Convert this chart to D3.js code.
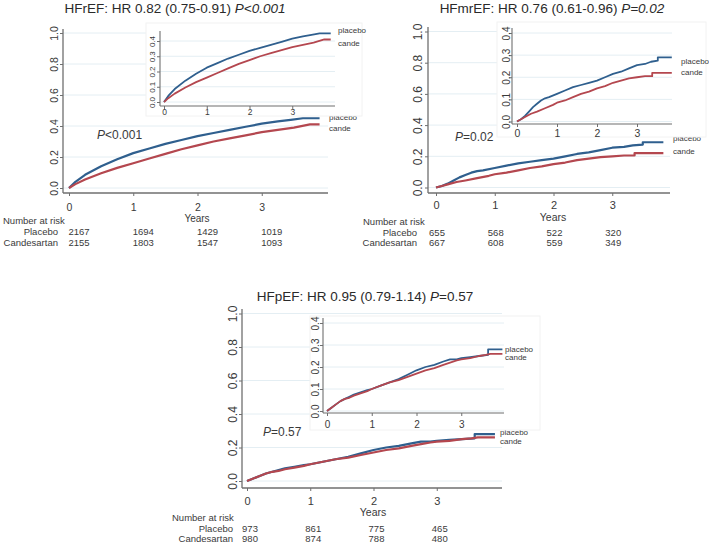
<!DOCTYPE html>
<html>
<head>
<meta charset="utf-8">
<script src="https://cdn.jsdelivr.net/npm/d3@7"></script>
<style>
  html, body { margin: 0; padding: 0; background: #fff; }
  svg { display: block; font-family: "Liberation Sans", Arial, Helvetica, sans-serif; }
</style>
</head>
<body>
<svg id="chart" width="709" height="545"></svg>
<script>
// ---------------- DATA ----------------
const years = [0, 1, 2, 3];
const yMainTicks = [0, 0.2, 0.4, 0.6, 0.8, 1.0];
const yInsetTicks = [0, 0.1, 0.2, 0.3, 0.4];
const riskRowLabels = ["Placebo", "Candesartan"];
const seriesLabels = ["placebo", "cande"];

// HFrEF
const hfrefTitle = ["HFrEF: HR 0.82 (0.75-0.91) ", "P<0.001", ""];
const hfrefP = ["P", "<0.001"];
const hfrefTimeP   = [0, 0.1, 0.25, 0.5, 0.75, 1, 1.25, 1.5, 1.75, 2, 2.25, 2.5, 2.75, 3, 3.25, 3.45, 3.64, 3.9];
const hfrefPlacebo = [0, 0.04, 0.085, 0.14, 0.185, 0.225, 0.255, 0.285, 0.31, 0.335, 0.355, 0.375, 0.395, 0.415, 0.43, 0.44, 0.45, 0.45];
const hfrefTimeC   = [0, 0.1, 0.25, 0.5, 0.75, 1, 1.25, 1.5, 1.75, 2, 2.25, 2.5, 2.75, 3, 3.25, 3.5, 3.75, 3.9];
const hfrefCande   = [0, 0.025, 0.055, 0.095, 0.13, 0.16, 0.19, 0.22, 0.25, 0.275, 0.3, 0.32, 0.34, 0.36, 0.375, 0.39, 0.41, 0.41];
const hfrefRiskPlacebo = [2167, 1694, 1429, 1019];
const hfrefRiskCande   = [2155, 1803, 1547, 1093];

// HFmrEF
const hfmrefTitle = ["HFmrEF: HR 0.76 (0.61-0.96) ", "P=0.02", ""];
const hfmrefP = ["P", "=0.02"];
const hfmrefTimeP   = [0, 0.1, 0.2, 0.3, 0.4, 0.5, 0.6, 0.7, 0.8, 1.0, 1.2, 1.4, 1.6, 1.8, 2.0, 2.2, 2.4, 2.6, 2.8, 3.0, 3.2, 3.35, 3.52, 3.52, 3.87];
const hfmrefPlacebo = [0, 0.01, 0.025, 0.045, 0.065, 0.08, 0.095, 0.105, 0.11, 0.125, 0.14, 0.155, 0.165, 0.175, 0.185, 0.2, 0.215, 0.225, 0.24, 0.255, 0.26, 0.27, 0.275, 0.29, 0.29];
const hfmrefTimeC   = [0, 0.1, 0.2, 0.35, 0.5, 0.7, 0.9, 1.0, 1.2, 1.4, 1.6, 1.8, 2.0, 2.2, 2.4, 2.6, 2.8, 3.0, 3.2, 3.38, 3.38, 3.87];
const hfmrefCande   = [0, 0.01, 0.02, 0.035, 0.045, 0.06, 0.075, 0.085, 0.095, 0.11, 0.125, 0.135, 0.15, 0.16, 0.175, 0.185, 0.195, 0.2, 0.205, 0.205, 0.22, 0.22];
const hfmrefRiskPlacebo = [655, 568, 522, 320];
const hfmrefRiskCande   = [667, 608, 559, 349];

// HFpEF
const hfpefTitle = ["HFpEF: HR 0.95 (0.79-1.14) ", "P", "=0.57"];
const hfpefP = ["P", "=0.57"];
const hfpefTimeP   = [0, 0.1, 0.2, 0.3, 0.4, 0.5, 0.6, 0.75, 0.9, 1.0, 1.2, 1.4, 1.6, 1.8, 2.0, 2.2, 2.4, 2.6, 2.75, 2.9, 3.0, 3.2, 3.4, 3.6, 3.6, 3.92];
const hfpefPlacebo = [0, 0.015, 0.03, 0.045, 0.055, 0.065, 0.075, 0.085, 0.095, 0.1, 0.115, 0.13, 0.145, 0.165, 0.185, 0.2, 0.21, 0.225, 0.235, 0.235, 0.24, 0.245, 0.25, 0.255, 0.28, 0.28];
const hfpefTimeC   = [0, 0.1, 0.2, 0.3, 0.4, 0.5, 0.6, 0.75, 0.9, 1.0, 1.2, 1.4, 1.6, 1.8, 2.0, 2.2, 2.4, 2.6, 2.75, 2.9, 3.0, 3.2, 3.4, 3.55, 3.65, 3.92];
const hfpefCande   = [0, 0.015, 0.03, 0.045, 0.055, 0.06, 0.07, 0.08, 0.09, 0.1, 0.115, 0.13, 0.14, 0.155, 0.17, 0.185, 0.195, 0.21, 0.22, 0.23, 0.235, 0.24, 0.25, 0.255, 0.26, 0.26];
const hfpefRiskPlacebo = [973, 861, 775, 465];
const hfpefRiskCande   = [980, 874, 788, 480];

// ---------------- STYLE ----------------
const colPlacebo = "#2f5f8e";
const colCande = "#b4474f";
const gridColor = "#e4eef3";
const axisColor = "#6f6f6f";
const textColor = "#3a3a3a";

const svg = d3.select("#chart");

function toPts(t, v) { return t.map((d, i) => ({ t: d, v: v[i] })); }

function axesBlock(g, L, yTicks, yDomMax, yFmt) {
  const x = d3.scaleLinear().domain([0, 4]).range([L.x0, L.x4]);
  const y = d3.scaleLinear().domain([0, yDomMax]).range([L.y0, L.y1]);
  g.append("g").selectAll("line").data(yTicks).join("line")
    .attr("x1", L.axX).attr("x2", L.axXEnd)
    .attr("y1", d => y(d)).attr("y2", d => y(d))
    .attr("stroke", gridColor).attr("stroke-width", 1);
  const pad = L.xLabY - L.axY - 3 - 0.36 * L.xFs;
  const xa = g.append("g").attr("transform", `translate(0,${L.axY})`)
    .call(d3.axisBottom(x).tickValues(years).tickSize(3).tickSizeOuter(0).tickPadding(pad).tickFormat(d3.format("d")));
  xa.select(".domain").remove();
  xa.selectAll("line").attr("stroke", axisColor);
  xa.selectAll("text").attr("font-size", L.xFs).attr("fill", textColor).attr("font-family", null);
  g.append("line").attr("x1", L.axX).attr("x2", L.axXEnd).attr("y1", L.axY).attr("y2", L.axY)
    .attr("stroke", axisColor).attr("stroke-width", L.axW);
  const ya = g.append("g").attr("transform", `translate(${L.axX},0)`)
    .call(d3.axisLeft(y).tickValues(yTicks).tickSize(3).tickSizeOuter(0).tickFormat(d3.format(yFmt)));
  ya.select(".domain").remove();
  ya.selectAll("line").attr("stroke", axisColor);
  ya.selectAll("text")
    .attr("x", 0).attr("dy", "0.35em")
    .attr("text-anchor", "middle")
    .attr("transform", `translate(${-(L.axX - L.yLabX)},0) rotate(-90)`)
    .attr("font-size", L.yFs).attr("fill", textColor).attr("font-family", null);
  g.append("line").attr("x1", L.axX).attr("x2", L.axX).attr("y1", L.axYTop).attr("y2", L.axY)
    .attr("stroke", axisColor).attr("stroke-width", L.axW);
  return { x, y };
}

function curves(g, sc, series, w) {
  const line = d3.line().x(d => sc.x(d.t)).y(d => sc.y(d.v)).curve(d3.curveLinear);
  series.forEach(s => {
    g.append("path").attr("d", line(s.pts)).attr("fill", "none")
      .attr("stroke", s.color).attr("stroke-width", w).attr("stroke-linejoin", "round");
  });
}

function curveLabels(g, pos, fs) {
  seriesLabels.forEach((lab, i) => {
    g.append("text").attr("x", pos[i][0]).attr("y", pos[i][1]).attr("dy", "0.35em")
      .attr("font-size", fs).attr("fill", textColor).text(lab);
  });
}

function drawPanel(P) {
  const g = svg.append("g");
  const tt = g.append("text").attr("x", P.titleX).attr("y", P.titleY).attr("text-anchor", "middle")
    .attr("font-size", 13.5).attr("fill", "#2a2a2a");
  tt.append("tspan").text(P.title[0]);
  tt.append("tspan").attr("font-style", "italic").text(P.title[1]);
  if (P.title[2]) tt.append("tspan").text(P.title[2]);

  const M = P.main;
  const sc = axesBlock(g, M, yMainTicks, 1, ".1f");
  curves(g, sc, P.series, 2.2);
  curveLabels(g, M.labPos, 8);
  g.append("text").attr("x", M.yearsX).attr("y", M.yearsY).attr("dy", "0.35em").attr("text-anchor", "middle")
    .attr("font-size", M.yearsFs).attr("fill", textColor).text("Years");
  const pt = g.append("text").attr("x", M.pX).attr("y", M.pY).attr("dy", "0.35em")
    .attr("font-size", 12).attr("fill", textColor);
  pt.append("tspan").attr("font-style", "italic").text(P.pText[0]);
  pt.append("tspan").text(P.pText[1]);

  const R = P.risk;
  g.append("text").attr("x", R.headX).attr("y", R.headY).attr("dy", "0.35em")
    .attr("font-size", 9.5).attr("fill", textColor).text("Number at risk");
  [P.riskPlacebo, P.riskCande].forEach((row, i) => {
    g.append("text").attr("x", R.rowLabX).attr("y", R.rowY[i]).attr("dy", "0.35em")
      .attr("text-anchor", "end").attr("font-size", 9.5).attr("fill", textColor).text(riskRowLabels[i]);
    g.append("g").selectAll("text").data(row).join("text")
      .attr("x", (d, j) => sc.x(years[j]) + R.numOff).attr("y", R.rowY[i]).attr("dy", "0.35em")
      .attr("text-anchor", "middle").attr("font-size", 9.5).attr("fill", textColor).text(d => d);
  });

  const I = P.inset;
  const gi = g.append("g");
  gi.append("rect").attr("x", I.box[0]).attr("y", I.box[1])
    .attr("width", I.box[2] - I.box[0]).attr("height", I.box[3] - I.box[1])
    .attr("fill", "#fff").attr("stroke", "#f2f2f2").attr("stroke-width", 1);
  const si = axesBlock(gi, I, yInsetTicks, 0.4, ".1f");
  curves(gi, si, P.series, 1.8);
  curveLabels(gi, I.labPos, 8);
}

const panels = [
  {
    title: hfrefTitle, titleX: 175, titleY: 13, pText: hfrefP,
    series: [
      { pts: toPts(hfrefTimeP, hfrefPlacebo), color: colPlacebo },
      { pts: toPts(hfrefTimeC, hfrefCande), color: colCande }
    ],
    riskPlacebo: hfrefRiskPlacebo, riskCande: hfrefRiskCande,
    main: { x0: 69, x4: 326, y0: 188, y1: 33, axX: 63, axY: 193, axXEnd: 328, axYTop: 29, axW: 1.3,
            xFs: 10.5, xLabY: 207.5, yFs: 10.5, yLabX: 54,
            yearsX: 197, yearsY: 218, yearsFs: 10, pX: 97, pY: 135,
            labPos: [[329, 117], [329, 128]] },
    risk: { headX: 3, headY: 221, rowLabX: 58, rowY: [231.5, 242.5], numOff: 10 },
    inset: { box: [146, 23, 362, 116], x0: 164, x4: 335, y0: 102, y1: 41, axX: 160, axY: 106, axXEnd: 335, axYTop: 31, axW: 1.1,
             xFs: 8.5, xLabY: 112, yFs: 8, yLabX: 152, labPos: [[338, 30], [338, 43]] }
  },
  {
    title: hfmrefTitle, titleX: 552, titleY: 13, pText: hfmrefP,
    series: [
      { pts: toPts(hfmrefTimeP, hfmrefPlacebo), color: colPlacebo },
      { pts: toPts(hfmrefTimeC, hfmrefCande), color: colCande }
    ],
    riskPlacebo: hfmrefRiskPlacebo, riskCande: hfmrefRiskCande,
    main: { x0: 436, x4: 671, y0: 187.5, y1: 31.5, axX: 428, axY: 193, axXEnd: 670, axYTop: 27, axW: 1.3,
            xFs: 11, xLabY: 205.5, yFs: 12, yLabX: 418,
            yearsX: 553, yearsY: 217, yearsFs: 10.5, pX: 455, pY: 137,
            labPos: [[673, 138], [673, 151]] },
    risk: { headX: 363, headY: 221.5, rowLabX: 417, rowY: [232.5, 243], numOff: 1 },
    inset: { box: [497, 22, 706, 137], x0: 517, x4: 677, y0: 121.5, y1: 33, axX: 512, axY: 124, axXEnd: 672, axYTop: 28, axW: 1.1,
             xFs: 10.5, xLabY: 133, yFs: 10, yLabX: 506, labPos: [[681, 61], [681, 72]] }
  },
  {
    title: hfpefTitle, titleX: 365, titleY: 301, pText: hfpefP,
    series: [
      { pts: toPts(hfpefTimeP, hfpefPlacebo), color: colPlacebo },
      { pts: toPts(hfpefTimeC, hfpefCande), color: colCande }
    ],
    riskPlacebo: hfpefRiskPlacebo, riskCande: hfpefRiskCande,
    main: { x0: 247, x4: 500, y0: 481, y1: 313.5, axX: 242, axY: 488, axXEnd: 502, axYTop: 309, axW: 1.3,
            xFs: 11, xLabY: 501, yFs: 12, yLabX: 233,
            yearsX: 373, yearsY: 512, yearsFs: 10.5, pX: 263, pY: 432,
            labPos: [[500, 432], [500, 441]] },
    risk: { headX: 172, headY: 518, rowLabX: 233, rowY: [528.5, 539], numOff: 3 },
    inset: { box: [310, 316, 540, 430], x0: 327, x4: 506, y0: 411, y1: 323, axX: 323, axY: 413, axXEnd: 504, axYTop: 318, axW: 1.1,
             xFs: 10, xLabY: 424, yFs: 10, yLabX: 315, labPos: [[505, 349], [505, 357.5]] }
  }
];

panels.forEach(drawPanel);
</script>
</body>
</html>
